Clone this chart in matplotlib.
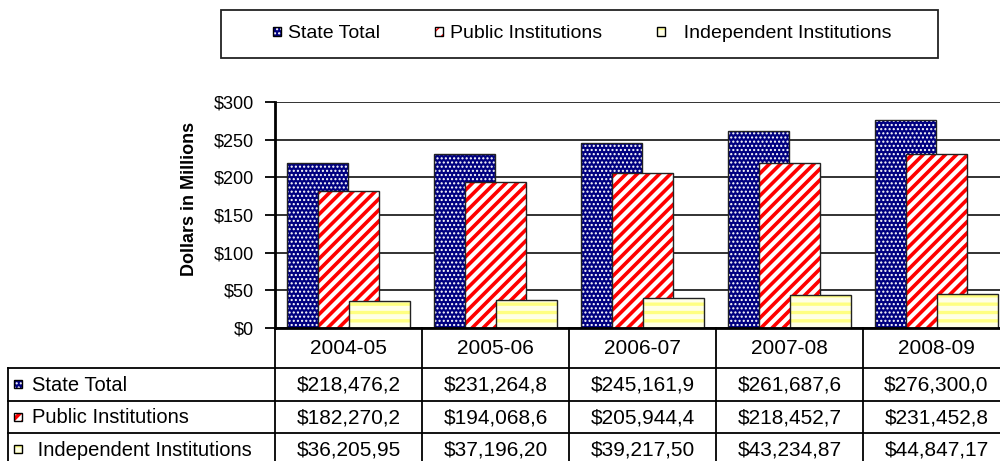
import numpy as np
import matplotlib
matplotlib.use("Agg")
import matplotlib.pyplot as plt
from matplotlib.patches import Rectangle
from matplotlib.ticker import FuncFormatter

plt.rcParams['font.family'] = ['Liberation Sans', 'DejaVu Sans']

# data (bars in millions of dollars)
years = ['2004-05', '2005-06', '2006-07', '2007-08', '2008-09']
series = ['State Total', 'Public Institutions', 'Independent Institutions']
state_total = [218.48, 231.26, 245.16, 261.69, 276.30]
public_inst = [182.27, 194.07, 205.94, 218.45, 231.45]
indep_inst = [36.21, 37.20, 39.22, 43.23, 44.85]

# cell text as printed in the data table (cut off by the cell width)
state_cells = ['$218,476,2', '$231,264,8', '$245,161,9', '$261,687,6', '$276,300,0']
public_cells = ['$182,270,2', '$194,068,6', '$205,944,4', '$218,452,7', '$231,452,8']
indep_cells = ['$36,205,95', '$37,196,20', '$39,217,50', '$43,234,87', '$44,847,17']
row_labels = ['State Total', 'Public Institutions', ' Independent Institutions']

# look of each series: face, hatch, hatch colour, hatch width
styles = [
    ('#000080', '....', 'white', 1.0),
    ('white', '///', '#FF0000', 2.6),
    ('#FFFFE6', '--', '#FFFF80', 2.4),
]
values = [state_total, public_inst, indep_inst]
cells = [state_cells, public_cells, indep_cells]

W, H = 1000, 461
fig = plt.figure(figsize=(W / 100, H / 100), dpi=100)


def hatched(xy, w, h, style, transform, edge='#222222', lw=1.0, **kw):
    face, hatch, hcol, hlw = style
    with plt.rc_context({'hatch.linewidth': hlw}):
        p1 = Rectangle(xy, w, h, facecolor=face, edgecolor=hcol, hatch=hatch,
                       linewidth=0, transform=transform, **kw)
    if hasattr(p1, 'set_hatch_linewidth'):
        p1.set_hatch_linewidth(hlw)
    p2 = Rectangle(xy, w, h, facecolor='none', edgecolor=edge, linewidth=lw,
                   transform=transform, **kw)
    return p1, p2


# ---- bar chart
ax = fig.add_axes([275 / W, (H - 328) / H, 735 / W, 226 / H])
x = np.arange(len(years))
offsets = [-0.21, 0.0, 0.21]
bw = 0.415
for k, (vals, off, st) in enumerate(zip(values, offsets, styles)):
    face, hatch, hcol, hlw = st
    with plt.rc_context({'hatch.linewidth': hlw}):
        bars = ax.bar(x + off, vals, bw, color=face, edgecolor=hcol,
                      hatch=hatch, linewidth=0, zorder=2 + 2 * k)
    for b in bars:
        if hasattr(b, 'set_hatch_linewidth'):
            b.set_hatch_linewidth(hlw)
    ax.bar(x + off, vals, bw, facecolor='none', edgecolor='#222222',
           linewidth=1.0, zorder=3 + 2 * k)

ax.set_xlim(-0.5, 4.5)
ax.set_ylim(0, 300)
ax.set_yticks(np.arange(0, 301, 50))
ax.yaxis.set_major_formatter(FuncFormatter(lambda v, p: f'${v:,.0f}'))
ax.tick_params(axis='y', labelsize=13, length=7, width=1.3, pad=8,
               direction='out', colors='black')
ax.set_xticks([])
ax.grid(axis='y', color='#222222', linewidth=1.3, zorder=0)
ax.set_axisbelow(True)
for s in ['top', 'right']:
    ax.spines[s].set_visible(False)
ax.spines['left'].set_linewidth(2)
ax.spines['bottom'].set_linewidth(2)
ax.spines['left'].set_zorder(10)
ax.spines['bottom'].set_zorder(10)
ax.set_ylabel('Dollars in Millions', fontsize=13, fontweight='bold')
ax.yaxis.set_label_coords(-0.105, 0.571)

# ---- data table under the bars
tab = fig.add_axes([8 / W, (H - 466) / H, 1002 / W, 138 / H])
x0 = -0.5 - 267 / 147
tab.set_xlim(x0, 4.5)
tab.set_ylim(138, 0)
tab.axis('off')
row_edges = [40, 72.5, 105, 137.5]
lc = 'black'
for i in range(len(years) + 1):
    tab.plot([i - 0.5, i - 0.5], [0, 138], color=lc, lw=1.3, clip_on=False)
tab.plot([x0, x0], [40, 138], color=lc, lw=1.3, clip_on=False)
for y in row_edges:
    tab.plot([x0, 4.5], [y, y], color=lc, lw=1.3, clip_on=False)

for i, yr in enumerate(years):
    tab.text(i, 21, yr, ha='center', va='center', fontsize=15)
for r in range(3):
    yc = (row_edges[r] + row_edges[r + 1]) / 2
    for i, s in enumerate(cells[r]):
        tab.text(i, yc + 1, s, ha='center', va='center', fontsize=15)
    # small swatch and series name
    sw = 8 / 147
    for p in hatched((x0 + 6 / 147, yc - 4), sw, 8, styles[r], tab.transData,
                     edge='black', lw=1.0, clip_on=False):
        tab.add_patch(p)
    tab.text(x0 + 24 / 147, yc + 1, row_labels[r], ha='left', va='center',
             fontsize=14.5)

# ---- legend box at the top
handles = []
for st in styles:
    handles.append(hatched((0, 0), 1, 1, st, fig.transFigure, edge='black', lw=1.0))
leg_labels = ['State Total', 'Public Institutions', '  Independent Institutions']
fig.legend(handles, leg_labels, loc='center', bbox_to_anchor=(582 / W, (H - 34) / H),
           ncol=3, frameon=False, fontsize=14, handlelength=0.4, handleheight=0.4,
           handletextpad=0.4, columnspacing=2.8)
fig.patches.append(Rectangle((221 / W, (H - 58) / H), 717 / W, 48 / H,
                             transform=fig.transFigure, facecolor='none',
                             edgecolor='#222222', linewidth=1.3))

fig.savefig('out.png', dpi=100)
